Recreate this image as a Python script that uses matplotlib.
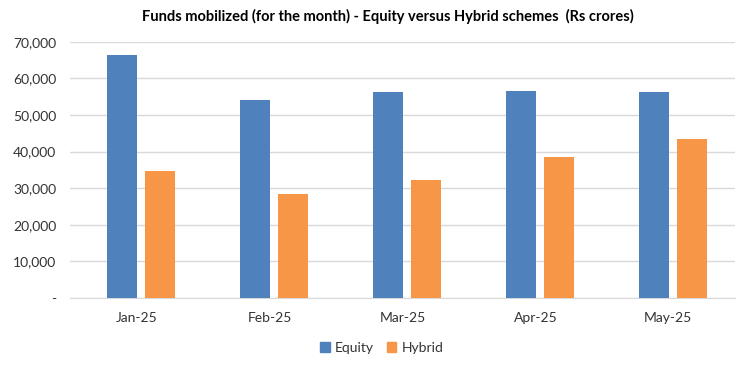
import numpy as np
from matplotlib import pyplot as plt
import matplotlib.patches as mpatches
from matplotlib.ticker import FuncFormatter

months = ["Jan-25", "Feb-25", "Mar-25", "Apr-25", "May-25"]
equity = [66400, 54200, 56300, 56600, 56300]
hybrid = [34700, 28400, 32300, 38600, 43500]

equity_color = "#4f81bd"
hybrid_color = "#f79646"
grid_color = "#d9d9d9"

plt.rcParams["font.family"] = ["Lato", "DejaVu Sans"]

fig = plt.figure(figsize=(7.56, 3.67), dpi=100)
ax = fig.add_axes([0.0926, 0.188, 0.8794, 0.698])

x = np.arange(len(months))
width = 0.225
gap = 0.06
ax.bar(x - (width + gap) / 2 + 0.035, equity, width, color=equity_color, zorder=3)
ax.bar(x + (width + gap) / 2 + 0.035, hybrid, width, color=hybrid_color, zorder=3)

ax.set_xlim(-0.5, len(months) - 0.5)
ax.set_ylim(0, 70000)
ax.set_yticks(np.arange(0, 70001, 10000))
ax.yaxis.set_major_formatter(FuncFormatter(lambda v, p: "-" if v == 0 else f"{int(v):,}"))
ax.set_xticks(x)
ax.set_xticklabels(months)
ax.yaxis.grid(True, color=grid_color, linewidth=1, zorder=0)
for side in ["top", "right", "left"]:
    ax.spines[side].set_visible(False)
ax.spines["bottom"].set_color(grid_color)
ax.tick_params(axis="both", length=0, labelsize=10, colors="#333333")
ax.tick_params(axis="y", pad=10)
ax.tick_params(axis="x", pad=10)

fig.suptitle("Funds mobilized (for the month) - Equity versus Hybrid schemes  (Rs crores)",
             x=0.513, y=0.975, fontsize=10.5, fontweight="bold", color="#000000")

eq_leg = mpatches.Patch(color=equity_color, label="Equity")
hy_leg = mpatches.Patch(color=hybrid_color, label="Hybrid")
fig.legend(handles=[eq_leg, hy_leg], loc="center", bbox_to_anchor=(0.505, 0.052),
           ncol=2, frameon=False, fontsize=10, handlelength=0.7, handleheight=0.7,
           handletextpad=0.4, columnspacing=0.9, labelcolor="#333333")

plt.savefig("out.png", dpi=100)
